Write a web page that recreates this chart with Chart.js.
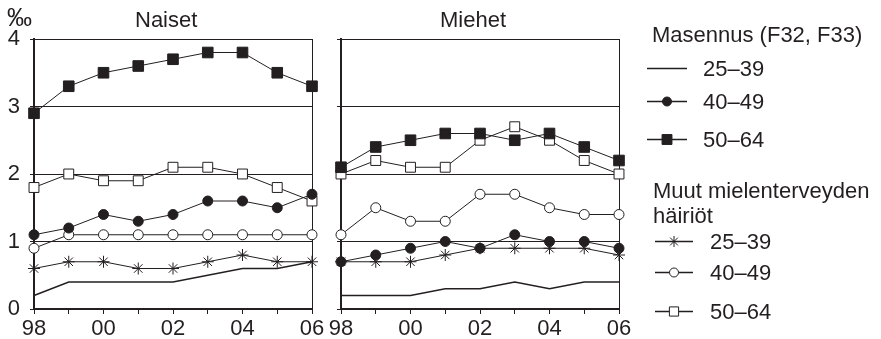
<!DOCTYPE html>
<html>
<head>
<meta charset="utf-8">
<script src="https://cdn.jsdelivr.net/npm/chart.js@4.4.1/dist/chart.umd.min.js"></script>
<style>
  body { margin: 0; background: #fff; font-family: "Liberation Sans", Arial, sans-serif; color: #231f20; }
  #wrap { position: relative; width: 881px; height: 339px; overflow: hidden; }
  canvas { position: absolute; top: 0; }
  .t { position: absolute; font-size: 22px; line-height: 1; white-space: nowrap; }
</style>
</head>
<body>
<div id="wrap">
  <canvas id="naiset" width="330" height="339" style="left:0"></canvas>
  <canvas id="miehet" width="340" height="339" style="left:300px"></canvas>
  <canvas id="legend" width="241" height="339" style="left:640px"></canvas>

  <div class="t" style="left:7px;top:5px;font-size:25px">‰</div>
  <div class="t" style="left:135px;top:9px">Naiset</div>
  <div class="t" style="left:440px;top:9px">Miehet</div>

  <div class="t" style="left:652px;top:24px">Masennus (F32, F33)</div>
  <div class="t" style="left:703px;top:58px">25–39</div>
  <div class="t" style="left:703px;top:91px">40–49</div>
  <div class="t" style="left:703px;top:129px">50–64</div>
  <div class="t" style="left:653px;top:180px">Muut mielenterveyden</div>
  <div class="t" style="left:653px;top:205px">häiriöt</div>
  <div class="t" style="left:710px;top:231px">25–39</div>
  <div class="t" style="left:710px;top:262px">40–49</div>
  <div class="t" style="left:710px;top:301px">50–64</div>
</div>

<script>
const years = ['98', '99', '00', '01', '02', '03', '04', '05', '06'];
const yTicks = [0, 1, 2, 3, 4];

// Naiset, ‰
const naisetMasennus2539 = [0.2, 0.4, 0.4, 0.4, 0.4, 0.5, 0.6, 0.6, 0.7];
const naisetMasennus4049 = [1.1, 1.2, 1.4, 1.3, 1.4, 1.6, 1.6, 1.5, 1.7];
const naisetMasennus5064 = [2.9, 3.3, 3.5, 3.6, 3.7, 3.8, 3.8, 3.5, 3.3];
const naisetMuut2539 = [0.6, 0.7, 0.7, 0.6, 0.6, 0.7, 0.8, 0.7, 0.7];
const naisetMuut4049 = [0.9, 1.1, 1.1, 1.1, 1.1, 1.1, 1.1, 1.1, 1.1];
const naisetMuut5064 = [1.8, 2.0, 1.9, 1.9, 2.1, 2.1, 2.0, 1.8, 1.6];

// Miehet, ‰
const miehetMasennus2539 = [0.2, 0.2, 0.2, 0.3, 0.3, 0.4, 0.3, 0.4, 0.4];
const miehetMasennus4049 = [0.7, 0.8, 0.9, 1.0, 0.9, 1.1, 1.0, 1.0, 0.9];
const miehetMasennus5064 = [2.1, 2.4, 2.5, 2.6, 2.6, 2.5, 2.6, 2.4, 2.2];
const miehetMuut2539 = [0.7, 0.7, 0.7, 0.8, 0.9, 0.9, 0.9, 0.9, 0.8];
const miehetMuut4049 = [1.1, 1.5, 1.3, 1.3, 1.7, 1.7, 1.5, 1.4, 1.4];
const miehetMuut5064 = [2.0, 2.2, 2.1, 2.1, 2.5, 2.7, 2.5, 2.2, 2.0];

const INK = '#231f20';
const FONT = { family: '"Liberation Sans", Arial, sans-serif', size: 22 };

// marker look for each series
const styles = {
  masennus2539: { pointStyle: false, pointRadius: 0, borderWidth: 1.5 },
  masennus4049: { pointStyle: 'circle', pointRadius: 5, pointBackgroundColor: INK },
  masennus5064: { pointStyle: 'rect', pointRadius: 7.5, pointBackgroundColor: INK },
  muut2539: { pointStyle: 'star', pointRadius: 6, pointBackgroundColor: INK },
  muut4049: { pointStyle: 'circle', pointRadius: 5, pointBackgroundColor: '#fff' },
  muut5064: { pointStyle: 'rect', pointRadius: 7, pointBackgroundColor: '#fff' }
};

function series(label, data, style) {
  return Object.assign({
    label: label,
    data: data,
    borderColor: INK,
    borderWidth: 1,
    pointBorderColor: INK,
    pointBorderWidth: 1,
    tension: 0,
    clip: false
  }, style);
}

function makePanel(id, sets, showYLabels, axisWidth, padRight) {
  const ctx = document.getElementById(id).getContext('2d');
  return new Chart(ctx, {
    type: 'line',
    data: { labels: years, datasets: sets },
    options: {
      responsive: false,
      animation: false,
      layout: { padding: { top: 39, right: padRight, bottom: 0, left: 0 } },
      plugins: { legend: { display: false }, tooltip: { enabled: false } },
      scales: {
        x: {
          offset: false,
          afterFit: (s) => { s.height = 30; },
          grid: { drawOnChartArea: false, drawTicks: true, tickLength: 5, color: INK, lineWidth: 1 },
          border: { color: INK, width: 2 },
          ticks: {
            autoSkip: false, maxRotation: 0, padding: 2, color: INK, font: FONT,
            callback: (v, i) => (i % 2 === 0 ? years[i] : '')
          }
        },
        y: {
          min: 0, max: 4,
          afterFit: (s) => { s.width = axisWidth; },
          afterBuildTicks: (s) => { s.ticks = yTicks.map(v => ({ value: v })); },
          grid: { color: INK, lineWidth: 1, tickLength: 4 },
          border: { color: INK, width: 2 },
          ticks: { display: showYLabels, padding: 10, color: INK, font: FONT }
        },
        frame: {
          position: 'right', min: 0, max: 4,
          afterFit: (s) => { s.width = 0; },
          grid: { display: false, drawTicks: false },
          border: { color: INK, width: 1 },
          ticks: { display: false }
        }
      }
    }
  });
}

makePanel('naiset', [
  series('Masennus 25–39', naisetMasennus2539, styles.masennus2539),
  series('Masennus 40–49', naisetMasennus4049, styles.masennus4049),
  series('Masennus 50–64', naisetMasennus5064, styles.masennus5064),
  series('Muut 25–39', naisetMuut2539, styles.muut2539),
  series('Muut 40–49', naisetMuut4049, styles.muut4049),
  series('Muut 50–64', naisetMuut5064, styles.muut5064)
], true, 34, 18);

makePanel('miehet', [
  series('Masennus 25–39', miehetMasennus2539, styles.masennus2539),
  series('Masennus 40–49', miehetMasennus4049, styles.masennus4049),
  series('Masennus 50–64', miehetMasennus5064, styles.masennus5064),
  series('Muut 25–39', miehetMuut2539, styles.muut2539),
  series('Muut 40–49', miehetMuut4049, styles.muut4049),
  series('Muut 50–64', miehetMuut5064, styles.muut5064)
], false, 41, 21);

// legend samples: short line with the series marker in the middle
const lg = document.getElementById('legend').getContext('2d');
const legendRows = [
  { style: styles.masennus2539, y: 68, x0: 7, x1: 47 },
  { style: styles.masennus4049, y: 101, x0: 7, x1: 47 },
  { style: styles.masennus5064, y: 139, x0: 7, x1: 47 },
  { style: styles.muut2539, y: 241, x0: 15, x1: 53 },
  { style: styles.muut4049, y: 272, x0: 15, x1: 53 },
  { style: styles.muut5064, y: 311, x0: 15, x1: 53 }
];
legendRows.forEach(r => {
  lg.strokeStyle = INK;
  lg.lineWidth = r.style.borderWidth || 1.5;
  lg.beginPath();
  lg.moveTo(r.x0, r.y + 0.5);
  lg.lineTo(r.x1, r.y + 0.5);
  lg.stroke();
  if (r.style.pointStyle) {
    lg.fillStyle = r.style.pointBackgroundColor;
    lg.strokeStyle = INK;
    lg.lineWidth = 1;
    Chart.helpers.drawPoint(lg, {
      pointStyle: r.style.pointStyle,
      radius: r.style.pointRadius - 0.5,
      rotation: 0,
      borderWidth: 1
    }, (r.x0 + r.x1) / 2, r.y + 0.5);
  }
});
</script>
</body>
</html>
